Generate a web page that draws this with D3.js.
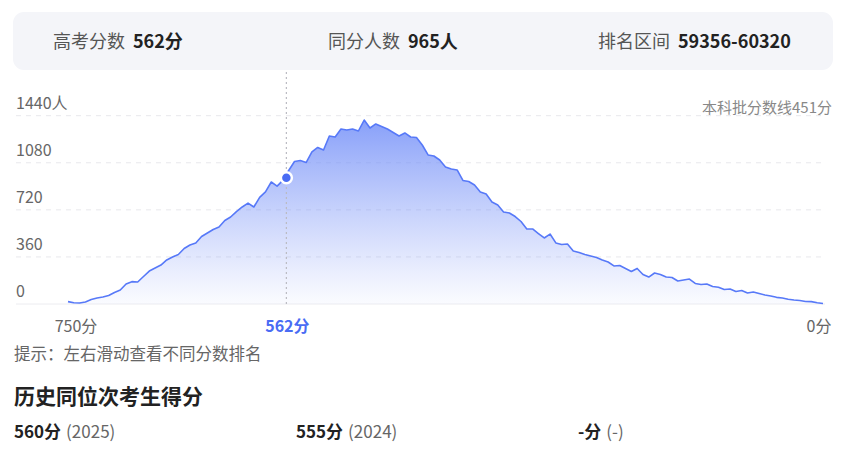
<!DOCTYPE html>
<html>
<head>
<meta charset="utf-8">
<script src="https://cdn.jsdelivr.net/npm/d3@7"></script>
<style>
  body { margin: 0; background: #fff; }
  text { font-family: "Noto Sans CJK SC", "Noto Sans", sans-serif; }
</style>
</head>
<body>
<div id="content"></div>
<script>
var width = 843, height = 453

// scores go from 750 down to 100 in steps of 5
var scores = d3.range(750, 99, -5)
var counts = [18, 9, 8, 15, 34, 46, 54, 65, 88, 107,
    153, 171, 168, 210, 252, 275, 298, 337, 359, 379,
    424, 451, 466, 516, 543, 570, 589, 639, 665, 707,
    742, 772, 742, 816, 857, 933, 902, 945, 1021, 1090,
    1097, 1082, 1163, 1197, 1178, 1285, 1277, 1338, 1331, 1338,
    1323, 1407, 1346, 1377, 1358, 1338, 1312, 1285, 1308, 1277,
    1273, 1216, 1140, 1132, 1101, 1048, 1032, 1025, 945, 937,
    910, 857, 841, 780, 757, 704, 696, 669, 631, 574,
    574, 539, 505, 535, 467, 455, 459, 405, 394, 379,
    367, 356, 337, 321, 291, 294, 272, 249, 272, 226,
    206, 237, 226, 206, 203, 176, 184, 191, 157, 149,
    153, 134, 128, 111, 115, 96, 103, 84, 92, 80,
    69, 61, 51, 46, 36, 31, 27, 19, 18, 10, 4]
var yTicks = [0, 360, 720, 1080, 1440]
var xLabels = [
    { score: 750, text: '750分' },
    { score: 562, text: '562分' },
    { score: 100, text: '0分' }
]
var current = { score: 562, count: 965 }
var summary = [
    { label: '高考分数', value: '562分' },
    { label: '同分人数', value: '965人' },
    { label: '排名区间', value: '59356-60320' }
]
var pastScores = [
    { score: '560分', year: '(2025)' },
    { score: '555分', year: '(2024)' },
    { score: '-分', year: '(-)' }
]
var cutoff = '本科批分数线451分'

var data = scores.map((s, i) => ({ score: s, count: counts[i] }))

var svg = d3.select('#content')
    .append('svg')
    .attr('width', width)
    .attr('height', height)

// header panel
svg.append('rect')
    .attr('x', 13).attr('y', 12)
    .attr('width', 820).attr('height', 58)
    .attr('rx', 11).attr('ry', 11)
    .attr('fill', '#f4f5f9')

var headX = [53, 328, 598]
summary.forEach((d, i) => {
    var t = svg.append('text')
        .attr('x', headX[i]).attr('y', 48)
        .attr('font-size', 18)
    t.append('tspan').attr('fill', '#555').text(d.label)
    t.append('tspan').attr('dx', 8).attr('fill', '#222').attr('font-weight', 'bold').text(d.value)
})

var x = d3.scaleLinear().domain([750, 100]).range([68, 823])
var y = d3.scaleLinear().domain([0, 1440]).range([304, 115.7])

var defs = svg.append('defs')
var grad = defs.append('linearGradient')
    .attr('id', 'areaFill')
    .attr('gradientUnits', 'userSpaceOnUse')
    .attr('x1', 0).attr('x2', 0)
    .attr('y1', y(1440)).attr('y2', y(0))
grad.append('stop').attr('offset', '0%').attr('stop-color', '#6f8cf8').attr('stop-opacity', 0.85)
grad.append('stop').attr('offset', '100%').attr('stop-color', '#8ea3f8').attr('stop-opacity', 0.04)

// grid lines
svg.append('g')
    .selectAll('line')
    .data(yTicks.slice(1))
    .join('line')
    .attr('x1', 16).attr('x2', 825)
    .attr('y1', d => y(d)).attr('y2', d => y(d))
    .attr('stroke', '#e8e8ec')
    .attr('stroke-dasharray', '5,5')

svg.append('line')
    .attr('x1', 16).attr('x2', 825)
    .attr('y1', y(0)).attr('y2', y(0))
    .attr('stroke', '#ececf0')

svg.append('g')
    .selectAll('text')
    .data(yTicks)
    .join('text')
    .attr('x', 16)
    .attr('y', d => y(d) - 7)
    .attr('font-size', 16)
    .attr('fill', '#666')
    .text(d => d === 1440 ? d + '人' : d)

svg.append('text')
    .attr('x', 832).attr('y', 113)
    .attr('text-anchor', 'end')
    .attr('font-size', 15)
    .attr('fill', '#888')
    .text(cutoff)

// area + line
svg.append('path')
    .datum(data)
    .attr('fill', 'url(#areaFill)')
    .attr('d', d3.area().x(d => x(d.score)).y0(y(0)).y1(d => y(d.count)))

svg.append('path')
    .datum(data)
    .attr('fill', 'none')
    .attr('stroke', '#5779f8')
    .attr('stroke-width', 1.6)
    .attr('stroke-linejoin', 'round')
    .attr('d', d3.line().x(d => x(d.score)).y(d => y(d.count)))

// current score marker
svg.append('line')
    .attr('x1', x(current.score)).attr('x2', x(current.score))
    .attr('y1', 72).attr('y2', y(0))
    .attr('stroke', '#bbbbc2')
    .attr('stroke-width', 1.2)
    .attr('stroke-dasharray', '2,3')

svg.append('circle')
    .attr('cx', x(current.score))
    .attr('cy', y(current.count))
    .attr('r', 5.5)
    .attr('fill', '#4a6cf4')
    .attr('stroke', '#fff')
    .attr('stroke-width', 2.5)

// x labels
svg.append('g')
    .selectAll('text')
    .data(xLabels)
    .join('text')
    .attr('x', (d, i) => i === 0 ? x(d.score) + 8 : i === 2 ? x(d.score) - 4 : x(d.score) + 1)
    .attr('y', 332)
    .attr('text-anchor', 'middle')
    .attr('font-size', 16)
    .attr('font-weight', d => d.score === current.score ? 'bold' : 'normal')
    .attr('fill', d => d.score === current.score ? '#4a6cf4' : '#666')
    .text(d => d.text)

svg.append('text')
    .attr('x', 14).attr('y', 360)
    .attr('font-size', 16.5)
    .attr('fill', '#666')
    .text('提示：左右滑动查看不同分数排名')

svg.append('text')
    .attr('x', 14).attr('y', 404)
    .attr('font-size', 21)
    .attr('font-weight', 'bold')
    .attr('fill', '#222')
    .text('历史同位次考生得分')

var histX = [14, 296, 578]
pastScores.forEach((d, i) => {
    var t = svg.append('text')
        .attr('x', histX[i]).attr('y', 438)
        .attr('font-size', 17)
    t.append('tspan').attr('fill', '#222').attr('font-weight', 'bold').text(d.score)
    t.append('tspan').attr('dx', 5).attr('fill', '#666').text(d.year)
})
</script>
</body>
</html>
